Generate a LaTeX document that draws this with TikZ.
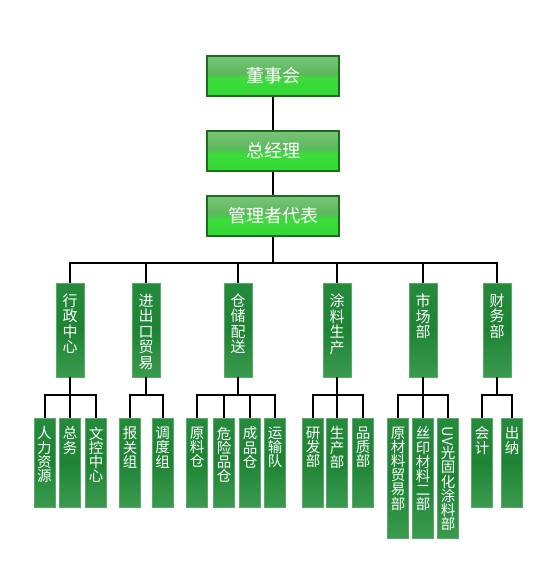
\documentclass[tikz,border=0pt]{standalone}
\usepackage{fontspec}
\setmainfont{Noto Sans CJK SC}
\usetikzlibrary{calc}
\definecolor{tgA}{HTML}{1FA81F}
\definecolor{tgB}{HTML}{30D630}
\definecolor{tgC}{HTML}{3CDC3C}
\definecolor{tgD}{HTML}{5CB85C}
\definecolor{tgE}{HTML}{9AD49A}
\definecolor{topborder}{HTML}{1B6E1B}
\definecolor{vA}{HTML}{C4E4CB}
\definecolor{vB}{HTML}{3A9A4F}
\definecolor{vC}{HTML}{1E8434}
\definecolor{vD}{HTML}{288C3E}
\definecolor{vE}{HTML}{EEF8F0}
\definecolor{vborder}{HTML}{5AA86A}
\pgfdeclareverticalshading{topshade}{100bp}{color(0bp)=(tgA); color(15bp)=(tgB); color(47bp)=(tgC); color(53bp)=(tgD); color(100bp)=(tgE)}
\pgfdeclareverticalshading{vshade}{100bp}{color(0bp)=(vA); color(25bp)=(vB); color(50bp)=(vC); color(82bp)=(vD); color(100bp)=(vE)}
\tikzset{
  topbox/.style={draw=topborder, line width=1.5pt, shading=topshade, minimum width=132pt, minimum height=40pt, inner sep=0pt, text=white, font=\fontsize{18}{20}\selectfont},
  midbox/.style={draw=vborder, line width=0.8pt, shading=vshade, minimum width=28pt, minimum height=94pt, inner sep=0pt},
  lowbox/.style={draw=vborder, line width=0.8pt, shading=vshade, minimum width=21pt, minimum height=89pt, inner sep=0pt},
  longbox/.style={lowbox, minimum height=120pt},
  vtext/.style={anchor=north, text=white, align=center, inner sep=0pt, font=\fontsize{15}{15.5}\selectfont},
  vtextlow/.style={vtext, font=\fontsize{14.5}{14.2}\selectfont},
  link/.style={draw=black, line width=2pt},
}
\begin{document}
\begin{tikzpicture}[x=1pt,y=-1pt]
\useasboundingbox[fill=white] (0,0) rectangle (558,571);
% top boxes
\node[topbox] (dsh) at (273,76) {董事会};
\node[topbox] (zjl) at (273,151) {总经理};
\node[topbox] (glz) at (273,216) {管理者代表};
\coordinate (busA) at (0,263);
\coordinate (busB) at (0,395);
% level 2
\foreach \n/\x/\t in {xz/70/行\\政\\中\\心, jck/146/进\\出\\口\\贸\\易, cc/238/仓\\储\\配\\送, tl/337/涂\\料\\生\\产, sc/423/市\\场\\部, cw/497/财\\务\\部}{
  \node[midbox] (\n) at (\x,330) {};
  \node[vtext] (\n-t) at ([yshift=-11pt]\n.north) {\t};
}
% level 3
\foreach \n/\x/\t in {rl/44.5/人\\力\\资\\源, zw/70/总\\务, wk/96/文\\控\\中\\心, bg/130/报\\关\\组, dd/162.5/调\\度\\组, ylc/197/原\\料\\仓, wx/224/危\\险\\品\\仓, cp/250/成\\品\\仓, ys/275/运\\输\\队, yf/313/研\\发\\部, scb/337/生\\产\\部, pz/363/品\\质\\部, kj/482/会\\计, cn/512/出\\纳}{
  \node[lowbox] (\n) at (\x,462.5) {};
  \node[vtextlow] (\n-t) at ([yshift=-9pt]\n.north) {\t};
}
\foreach \n/\x/\t in {ycl/398/原\\材\\料\\贸\\易\\部, sy/423/丝\\印\\材\\料\\二\\部, uv/448/\rotatebox{-90}{UV}\\光\\固\\化\\涂\\料\\部}{
  \node[longbox] (\n) at (\x,478) {};
  \node[vtextlow] (\n-t) at ([yshift=-9pt]\n.north) {\t};
}
% connectors
\draw[link] (dsh) -- (zjl);
\draw[link] (zjl) -- (glz);
\foreach \c in {xz,jck,cc,tl,sc,cw}{
  \draw[link] (glz.south) -- (glz.south |- busA) -| (\c.north);
}
\foreach \p/\cs in {xz/{rl,zw,wk}, jck/{bg,dd}, cc/{ylc,wx,cp,ys}, tl/{yf,scb,pz}, sc/{ycl,sy,uv}, cw/{kj,cn}}{
  \foreach \c in \cs {
    \draw[link] (\p.south) -- (\p.south |- busB) -| (\c.north);
  }
}
\end{tikzpicture}
\end{document}
